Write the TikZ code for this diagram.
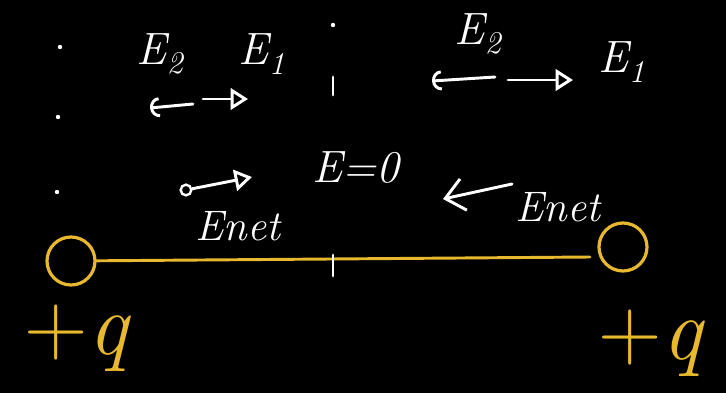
\documentclass[tikz,border=0pt]{standalone}
\usetikzlibrary{arrows.meta}
\definecolor{chargeyellow}{RGB}{232,184,46}

\begin{document}
\begin{tikzpicture}[x=0.75pt,y=0.75pt,yscale=-1,xscale=1,
  chalk/.style={draw=white,line width=2.2pt,line cap=round},
  wire/.style={draw=chargeyellow,line width=2.2pt,line cap=round},
  fieldlbl/.style={text=white,font=\fontsize{34}{40}\selectfont\itshape,inner sep=0pt},
  netlbl/.style={text=white,font=\fontsize{32}{38}\selectfont\itshape,inner sep=0pt},
  qlbl/.style={text=chargeyellow,font=\fontsize{66}{74}\selectfont,inner sep=0pt},
  chargedot/.style={circle,draw=chargeyellow,line width=2.4pt,minimum size=36,inner sep=0pt},
  pull/.style={-{Arc Barb[length=7pt,width=15pt,line width=2.2pt]}},
  pullbig/.style={-{Straight Barb[length=14pt,width=24pt,line width=2.2pt]}},
  push/.style={-{Triangle[open,length=13pt,width=16pt,line width=2.2pt]}}]

%Board
\fill[black] (0,0) rectangle (726,393);

%Charges and the line joining them
\node[chargedot] (qL) at (71,261) {};
\node[chargedot] (qR) at (623,247) {};
\coordinate (wireR) at (590,257);
\draw[wire] (qL) -- (wireR);
\coordinate (tickT) at (333,255);
\coordinate (tickB) at (333,276);
\draw[chalk] (tickT) -- (tickB);

%Dotted lines
\foreach \px/\py in {60/47,58/117,57/192,333/25}
  \fill[white] (\px,\py) circle (2.2);
\coordinate (midT) at (333,77);
\coordinate (midB) at (333,95);
\draw[chalk] (midT) -- (midB);

% Text Node
\node[fieldlbl] (e2L) at (160,54) {E\textsubscript{2}};
% Text Node
\node[fieldlbl] (e1L) at (262,54) {E\textsubscript{1}};
% Text Node
\node[fieldlbl] (e2R) at (478,34) {E\textsubscript{2}};
% Text Node
\node[fieldlbl] (e1R) at (622,62) {E\textsubscript{1}};
% Text Node
\node[fieldlbl] (ezero) at (356,168) {E=0};
% Text Node
\node[netlbl] (netL) at (238,226) {Enet};
% Text Node
\node[netlbl] (netR) at (558,207) {Enet};
% Text Node
\node[qlbl] (plusL) at (78,338) {+\textit{q}};
% Text Node
\node[qlbl] (plusR) at (652,343) {+\textit{q}};

%Field arrows, left half
\coordinate (a2Ls) at (193,104);
\coordinate (a2Le) at (150,108);
\draw[chalk,pull] (a2Ls) -- (a2Le);
\coordinate (a1Ls) at (203,99);
\coordinate (a1Le) at (248,99);
\draw[chalk,push] (a1Ls) -- (a1Le);
\node[circle,draw=white,line width=1.8pt,minimum size=8,inner sep=0pt] (netLo) at (186,190) {};
\coordinate (netLe) at (252,177);
\draw[chalk,push] (netLo) -- (netLe);

%Field arrows, right half
\coordinate (a2Rs) at (495,77);
\coordinate (a2Re) at (432,81);
\draw[chalk,pull] (a2Rs) -- (a2Re);
\coordinate (a1Rs) at (508,80);
\coordinate (a1Re) at (573,80);
\draw[chalk,push] (a1Rs) -- (a1Re);
\coordinate (netRs) at (512,184);
\coordinate (netRe) at (443,199);
\draw[chalk,pullbig] (netRs) -- (netRe);

\end{tikzpicture}
\end{document}
